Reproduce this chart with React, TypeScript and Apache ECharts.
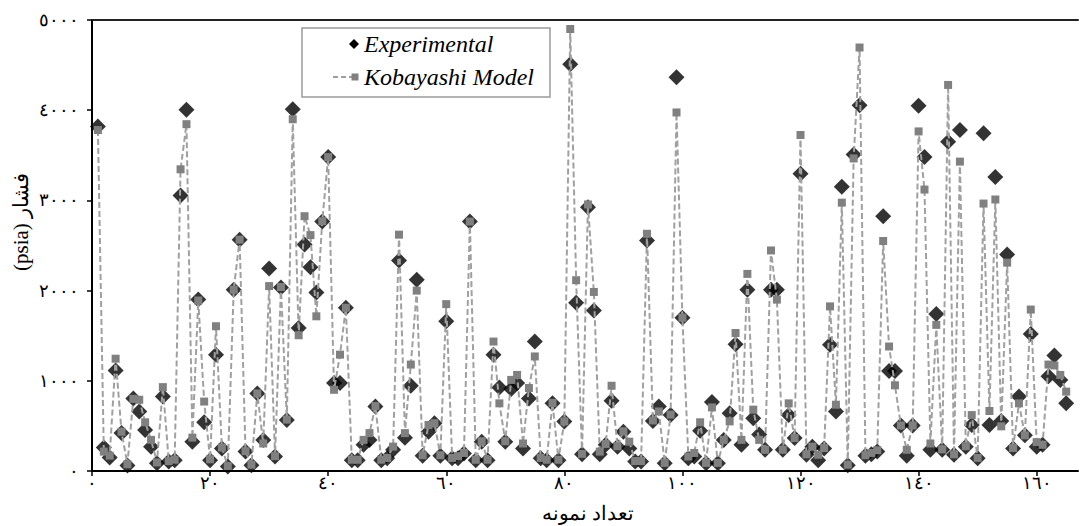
import React, { useEffect, useRef } from 'react';
import * as echarts from 'echarts';

// Pressure (psia) per sample, samples numbered 1..165
const experimental = [
  3820, 260, 150, 1115, 420, 60, 805, 660, 455, 270,
  85, 825, 105, 120, 3055, 4005, 325, 1900, 540, 120,
  1290, 250, 50, 2010, 2565, 215, 65, 860, 345, 2245,
  160, 2035, 565, 4010, 1585, 2510, 2260, 1980, 2765, 3480,
  975, 975, 1810, 120, 120, 290, 345, 715, 120, 140,
  235, 2335, 370, 945, 2120, 170, 435, 530, 170, 1660,
  140, 140, 195, 2765, 120, 325, 120, 1290, 925, 325,
  910, 975, 250, 805, 1435, 140, 120, 750, 120, 550,
  4510, 1865, 185, 2925, 1780, 185, 290, 780, 270, 435,
  250, 105, 105, 2555, 555, 715, 85, 620, 4365, 1700,
  140, 160, 445, 85, 765, 85, 345, 640, 1405, 290,
  2010, 585, 405, 235, 2010, 2010, 235, 620, 365, 3295,
  180, 270, 120, 250, 1400, 660, 3150, 65, 3510, 4055,
  170, 185, 215, 2825, 1110, 1110, 505, 170, 505, 4050,
  3480, 235, 1740, 235, 3650, 180, 3780, 270, 510, 140,
  3745, 510, 3260, 555, 2400, 250, 825, 395, 1520, 270,
  290, 1050, 1280, 1010, 750,
];

const kobayashi = [
  3780, 215, 170, 1245, 435, 75, 800, 790, 540, 345,
  95, 930, 110, 125, 3345, 3845, 370, 1890, 770, 130,
  1605, 260, 55, 2010, 2565, 220, 70, 860, 305, 2050,
  165, 2040, 570, 3900, 1505, 2825, 2615, 1715, 2770, 3480,
  900, 1290, 1810, 125, 125, 345, 420, 720, 125, 145,
  270, 2620, 420, 1180, 2000, 175, 510, 530, 175, 1850,
  145, 165, 200, 2765, 125, 330, 125, 1435, 750, 330,
  1010, 1065, 305, 920, 1270, 145, 125, 755, 125, 550,
  4900, 2115, 190, 2955, 1985, 215, 300, 945, 275, 440,
  325, 110, 110, 2630, 560, 660, 90, 625, 3975, 1700,
  160, 200, 540, 90, 705, 90, 345, 550, 1530, 345,
  2185, 680, 345, 235, 2445, 1900, 235, 750, 365, 3725,
  185, 270, 180, 255, 1825, 735, 2975, 70, 3465, 4695,
  175, 200, 230, 2550, 1380, 950, 505, 235, 505, 3765,
  3120, 305, 1620, 240, 4280, 185, 3430, 275, 620, 145,
  2965, 665, 3010, 495, 2310, 255, 750, 395, 1790, 320,
  290, 1180, 1170, 1065, 880,
];

const xTickValues = [0, 20, 40, 60, 80, 100, 120, 140, 160];
const yTickValues = [0, 1000, 2000, 3000, 4000, 5000];
const seriesNames = ['Experimental', 'Kobayashi Model'];
const xTitle = 'تعداد نمونه';
const yTitle = '(psia) فشار';

const toArabicDigits = (n: number | string) =>
  String(n).replace(/\d/g, (d) => String.fromCharCode(0x0660 + Number(d)));

export default function App() {
  const ref = useRef<HTMLDivElement>(null);

  useEffect(() => {
    if (!ref.current) return;
    const chart = echarts.init(ref.current, null, { renderer: 'svg' });
    const serif = '"Liberation Serif", "Times New Roman", "DejaVu Serif", serif';

    chart.setOption({
      animation: false,
      backgroundColor: '#ffffff',
      grid: { left: 92, right: 9, top: 20, bottom: 55, containLabel: false },
      xAxis: [
        {
          type: 'value',
          min: 0,
          max: 167,
          interval: 20,
          position: 'bottom',
          axisLine: { show: true, onZero: false, lineStyle: { color: '#000', width: 2 } },
          axisTick: {
            show: true,
            length: 5,
            customValues: xTickValues,
            lineStyle: { color: '#000', width: 1.5 },
          },
          axisLabel: {
            customValues: xTickValues,
            formatter: (v: number) => toArabicDigits(v),
            color: '#000',
            fontFamily: serif,
            fontSize: 18,
            margin: 3,
          },
          splitLine: { show: false },
        },
        {
          type: 'value',
          min: 0,
          max: 167,
          position: 'top',
          axisLine: { show: true, onZero: false, lineStyle: { color: '#222', width: 2 } },
          axisTick: { show: false },
          axisLabel: { show: false },
          splitLine: { show: false },
        },
      ],
      yAxis: {
        type: 'value',
        min: 0,
        max: 5000,
        interval: 1000,
        axisLine: { show: true, lineStyle: { color: '#000', width: 2 } },
        axisTick: {
          show: true,
          length: 5,
          customValues: yTickValues,
          lineStyle: { color: '#000', width: 1.5 },
        },
        axisLabel: {
          customValues: yTickValues,
          formatter: (v: number) => toArabicDigits(v),
          color: '#000',
          fontFamily: serif,
          fontSize: 18,
          margin: 13,
        },
        splitLine: { show: false },
      },
      series: [
        {
          name: seriesNames[0],
          type: 'scatter',
          xAxisIndex: 0,
          data: experimental.map((v, k) => [k + 1, v]),
          symbol: 'diamond',
          symbolSize: [16, 16],
          itemStyle: { color: '#000000' },
          z: 2,
        },
        {
          name: seriesNames[1],
          type: 'line',
          xAxisIndex: 0,
          data: kobayashi.map((v, k) => [k + 1, v]),
          symbol: 'rect',
          symbolSize: 8,
          showSymbol: true,
          showAllSymbol: true,
          itemStyle: { color: '#808080' },
          lineStyle: { color: '#a0a0a0', width: 2, type: [6, 3] },
          z: 3,
        },
      ],
      graphic: [
        {
          type: 'rect',
          z: 100,
          shape: { x: 302, y: 28, width: 248, height: 69 },
          style: { fill: '#ffffff', stroke: '#9a9a9a', lineWidth: 1.5 },
        },
        {
          type: 'polygon',
          z: 101,
          shape: { points: [[354, 39], [359, 44], [354, 49], [349, 44]] },
          style: { fill: '#000' },
        },
        {
          type: 'text',
          z: 101,
          x: 364,
          y: 44,
          style: {
            text: seriesNames[0],
            font: 'italic 24px "Liberation Serif", "Times New Roman", serif',
            fill: '#000',
            textAlign: 'left',
            textVerticalAlign: 'middle',
          },
        },
        {
          type: 'line',
          z: 101,
          shape: { x1: 333, y1: 77, x2: 353, y2: 77 },
          style: { stroke: '#9e9e9e', lineWidth: 2, lineDash: [5, 3] },
        },
        {
          type: 'rect',
          z: 101,
          shape: { x: 351.5, y: 73.5, width: 7, height: 7 },
          style: { fill: '#808080' },
        },
        {
          type: 'text',
          z: 101,
          x: 364,
          y: 77,
          style: {
            text: seriesNames[1],
            font: 'italic 24px "Liberation Serif", "Times New Roman", serif',
            fill: '#000',
            textAlign: 'left',
            textVerticalAlign: 'middle',
          },
        },
        {
          type: 'text',
          z: 101,
          x: 21,
          y: 222,
          rotation: Math.PI / 2,
          style: {
            text: yTitle,
            font: '21px "Liberation Serif", "Times New Roman", serif',
            fill: '#000',
            textAlign: 'center',
            textVerticalAlign: 'middle',
          },
        },
        {
          type: 'text',
          z: 101,
          x: 588,
          y: 513,
          style: {
            text: xTitle,
            font: '20px "Liberation Serif", "Times New Roman", serif',
            fill: '#000',
            textAlign: 'center',
            textVerticalAlign: 'middle',
          },
        },
      ],
    });

    return () => chart.dispose();
  }, []);

  return (
    <div
      ref={ref}
      style={{ position: 'fixed', left: 0, top: 0, width: 1087, height: 526 }}
    />
  );
}
